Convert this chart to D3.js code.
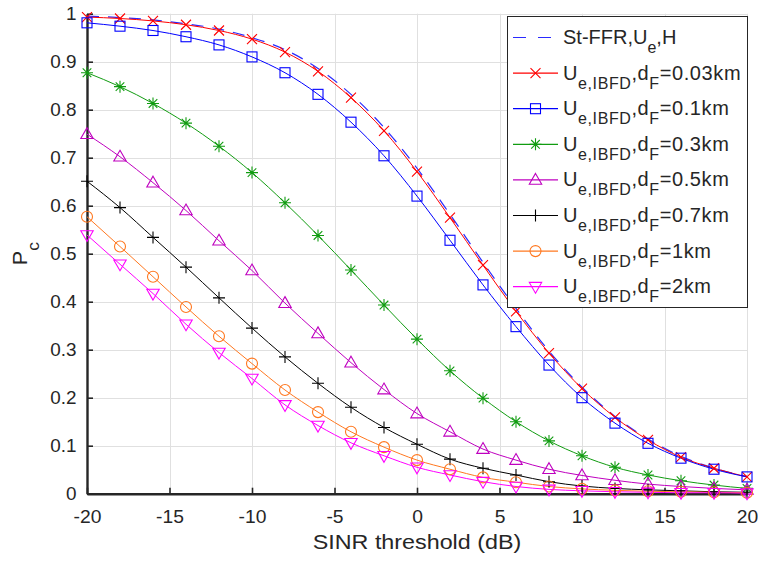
<!DOCTYPE html>
<html>
<head>
<meta charset="utf-8">
<script src="https://cdn.jsdelivr.net/npm/d3@7"></script>
<style>
  html, body { margin: 0; padding: 0; background: #fff; }
  svg { display: block; font-family: Arial, "Liberation Sans", sans-serif; }
</style>
</head>
<body>
<svg id="chart" width="758" height="562"></svg>
<script>
// SINR thresholds (dB) at which coverage probability was evaluated
const sinrDb = [-20, -18, -16, -14, -12, -10, -8, -6, -4, -2, 0, 2, 4, 6, 8, 10, 12, 14, 16, 18, 20];

// Coverage probability P_c for each scheme
const stFfr = [0.995, 0.992, 0.987, 0.979, 0.968, 0.950, 0.925, 0.886, 0.832, 0.763, 0.678, 0.582, 0.482, 0.386, 0.297, 0.222, 0.161, 0.114, 0.078, 0.053, 0.036];
const dF003 = [0.993, 0.990, 0.985, 0.977, 0.965, 0.947, 0.920, 0.880, 0.825, 0.756, 0.671, 0.575, 0.476, 0.380, 0.293, 0.219, 0.159, 0.112, 0.076, 0.053, 0.035];
const dF01  = [0.981, 0.974, 0.965, 0.952, 0.935, 0.910, 0.877, 0.832, 0.774, 0.704, 0.620, 0.528, 0.435, 0.348, 0.268, 0.200, 0.147, 0.105, 0.074, 0.051, 0.035];
const dF03  = [0.877, 0.848, 0.813, 0.772, 0.724, 0.669, 0.606, 0.538, 0.466, 0.393, 0.322, 0.256, 0.199, 0.150, 0.110, 0.079, 0.055, 0.039, 0.027, 0.018, 0.011];
const dF05  = [0.749, 0.702, 0.648, 0.590, 0.527, 0.465, 0.397, 0.334, 0.273, 0.217, 0.167, 0.129, 0.093, 0.070, 0.051, 0.038, 0.028, 0.020, 0.015, 0.011, 0.008];
const dF07  = [0.651, 0.596, 0.534, 0.472, 0.408, 0.345, 0.285, 0.230, 0.180, 0.138, 0.103, 0.072, 0.053, 0.039, 0.025, 0.016, 0.011, 0.008, 0.006, 0.004, 0.003];
const dF1   = [0.577, 0.515, 0.452, 0.389, 0.328, 0.271, 0.216, 0.170, 0.129, 0.097, 0.070, 0.051, 0.034, 0.024, 0.015, 0.010, 0.007, 0.005, 0.004, 0.003, 0.002];
const dF2   = [0.539, 0.478, 0.417, 0.353, 0.294, 0.240, 0.185, 0.142, 0.106, 0.079, 0.055, 0.039, 0.025, 0.015, 0.009, 0.006, 0.004, 0.003, 0.002, 0.002, 0.001];

// Axis ticks
const xTicks = [-20, -15, -10, -5, 0, 5, 10, 15, 20];
const xTickLabels = ["-20", "-15", "-10", "-5", "0", "5", "10", "15", "20"];
const yTicks = [0, 0.1, 0.2, 0.3, 0.4, 0.5, 0.6, 0.7, 0.8, 0.9, 1];
const yTickLabels = ["0", "0.1", "0.2", "0.3", "0.4", "0.5", "0.6", "0.7", "0.8", "0.9", "1"];

// Legend distances (subscripted "U_e,IBFD, d_F=...")
const dFLabels = ["0.03km", "0.1km", "0.3km", "0.5km", "0.7km", "1km", "2km"];

const series = [
  { values: stFfr, color: "#2a2aff", marker: null, dash: "12,9" },
  { values: dF003, color: "#ff0000", marker: "x",      dF: dFLabels[0] },
  { values: dF01,  color: "#0000ff", marker: "square", dF: dFLabels[1] },
  { values: dF03,  color: "#119c11", marker: "star",   dF: dFLabels[2] },
  { values: dF05,  color: "#bf00bf", marker: "triUp",  dF: dFLabels[3] },
  { values: dF07,  color: "#000000", marker: "plus",   dF: dFLabels[4] },
  { values: dF1,   color: "#ff7820", marker: "circle", dF: dFLabels[5] },
  { values: dF2,   color: "#ff00ff", marker: "triDown",dF: dFLabels[6] }
];

const svg = d3.select("#chart");
const plotLeft = 87, plotRight = 747, plotTop = 13.7, plotBottom = 493.7;
const x = d3.scaleLinear().domain([-20, 20]).range([plotLeft, plotRight]);
const y = d3.scaleLinear().domain([0, 1]).range([plotBottom, plotTop]);
const axisColor = "#262626";

// Widen text horizontally about its own x anchor
function widen(sel, s) {
  sel.each(function () {
    const t = d3.select(this);
    const ax = +t.attr("x") || 0;
    t.attr("transform", `translate(${ax},0) scale(${s},1) translate(${-ax},0)`);
  });
}

// Grid
const grid = svg.append("g").attr("stroke", "#e0e0e0").attr("stroke-width", 1);
grid.selectAll("line.gx").data(xTicks).join("line")
  .attr("x1", d => Math.round(x(d)) + 0.5).attr("x2", d => Math.round(x(d)) + 0.5)
  .attr("y1", plotTop).attr("y2", plotBottom);
grid.selectAll("line.gy").data(yTicks).join("line")
  .attr("y1", d => Math.round(y(d)) + 0.5).attr("y2", d => Math.round(y(d)) + 0.5)
  .attr("x1", plotLeft).attr("x2", plotRight);

// Axes (ticks pointing inward)
const xAxis = d3.axisBottom(x).tickValues(xTicks).tickFormat((d, i) => xTickLabels[i])
  .tickSizeInner(-6).tickSizeOuter(0).tickPadding(17);
const yAxis = d3.axisLeft(y).tickValues(yTicks).tickFormat((d, i) => yTickLabels[i])
  .tickSizeInner(-6).tickSizeOuter(0).tickPadding(10.5);

const gx = svg.append("g").attr("transform", `translate(0,${plotBottom})`).call(xAxis);
const gy = svg.append("g").attr("transform", `translate(${plotLeft},0)`).call(yAxis);
[gx, gy].forEach(g => {
  g.select(".domain").attr("stroke", axisColor).attr("stroke-width", 2.4);
  g.selectAll(".tick line").attr("stroke", axisColor).attr("stroke-width", 1.6);
  g.selectAll(".tick text").attr("fill", axisColor).attr("font-size", 18)
    .attr("font-family", "Arial, 'Liberation Sans', sans-serif");
});
gx.selectAll(".tick text").attr("dy", "0.71em");
widen(gx.selectAll(".tick text"), 1.07);
widen(gy.selectAll(".tick text"), 1.05);

// Curves
const line = d3.line().x((d, i) => x(sinrDb[i])).y(d => y(d)).curve(d3.curveMonotoneX);
const plot = svg.append("g");

function drawMarker(g, type, color) {
  const s = 5;
  let el;
  switch (type) {
    case "x":
      el = g.append("path").attr("d", `M${-s},${-s}L${s},${s}M${-s},${s}L${s},${-s}`);
      break;
    case "plus":
      el = g.append("path").attr("d", "M-6,0L6,0M0,-6L0,6");
      break;
    case "star":
      el = g.append("path").attr("d", "M-6,0L6,0M0,-6L0,6M-4.3,-4.3L4.3,4.3M-4.3,4.3L4.3,-4.3");
      break;
    case "square":
      el = g.append("rect").attr("x", -5).attr("y", -5).attr("width", 10).attr("height", 10);
      break;
    case "circle":
      el = g.append("circle").attr("r", 5.5);
      break;
    case "triUp":
      el = g.append("path").attr("d", "M0,-6.5L6.2,4.3L-6.2,4.3Z");
      break;
    case "triDown":
      el = g.append("path").attr("d", "M0,6.5L6.2,-4.3L-6.2,-4.3Z");
      break;
  }
  el.attr("stroke", color).attr("stroke-width", 1.1).attr("fill", "none");
}

series.forEach(s => {
  plot.append("path").datum(s.values)
    .attr("d", line)
    .attr("fill", "none")
    .attr("stroke", s.color)
    .attr("stroke-width", s.marker ? 1 : 1.2)
    .attr("stroke-dasharray", s.dash || null);
});
series.forEach(s => {
  if (!s.marker) return;
  s.values.forEach((v, i) => {
    const g = plot.append("g").attr("transform", `translate(${x(sinrDb[i])},${y(v)})`);
    drawMarker(g, s.marker, s.color);
  });
});

// Legend
const lg = svg.append("g");
const lx0 = 507, ly0 = 16, lw = 240, lh = 291;
lg.append("rect").attr("x", lx0 + 0.5).attr("y", ly0 + 0.5).attr("width", lw).attr("height", lh)
  .attr("fill", "#fff").attr("stroke", axisColor).attr("stroke-width", 1);

const rowStep = 35.6, row0 = 37.5;
series.forEach((s, i) => {
  const cy = row0 + i * rowStep;
  lg.append("line").attr("x1", 513).attr("x2", 558).attr("y1", cy).attr("y2", cy)
    .attr("stroke", s.color).attr("stroke-width", 1.2).attr("stroke-dasharray", s.marker ? null : "13,12");
  if (s.marker) {
    const g = lg.append("g").attr("transform", `translate(535.5,${cy})`);
    drawMarker(g, s.marker, s.color);
  }
  const t = lg.append("text").attr("x", 563).attr("y", cy + 6.5)
    .attr("font-size", 20).attr("fill", axisColor);
  if (!s.marker) {
    t.append("tspan").text("St-FFR,U");
    t.append("tspan").attr("font-size", 16).attr("dy", 9).text("e");
    t.append("tspan").attr("dy", -9).text(",H");
  } else {
    t.attr("letter-spacing", 0.6);
    t.append("tspan").text("U");
    t.append("tspan").attr("font-size", 16).attr("dy", 9).text("e,IBFD");
    t.append("tspan").attr("dy", -9).text(",d");
    t.append("tspan").attr("font-size", 16).attr("dy", 9).text("F");
    t.append("tspan").attr("dy", -9).text("=" + s.dF);
  }
});

// Axis titles
const xl = svg.append("text").attr("x", (plotLeft + plotRight) / 2).attr("y", 549).attr("text-anchor", "middle")
  .attr("font-size", 21).attr("fill", axisColor).text("SINR threshold (dB)");
widen(xl, 1.11);

const yl = svg.append("text")
  .attr("transform", `translate(27,${(plotTop + plotBottom) / 2}) rotate(-90) scale(1.08,1)`)
  .attr("text-anchor", "middle").attr("font-size", 20).attr("fill", axisColor);
yl.append("tspan").text("P");
yl.append("tspan").attr("font-size", 16).attr("dy", 12).text("c");
</script>
</body>
</html>
